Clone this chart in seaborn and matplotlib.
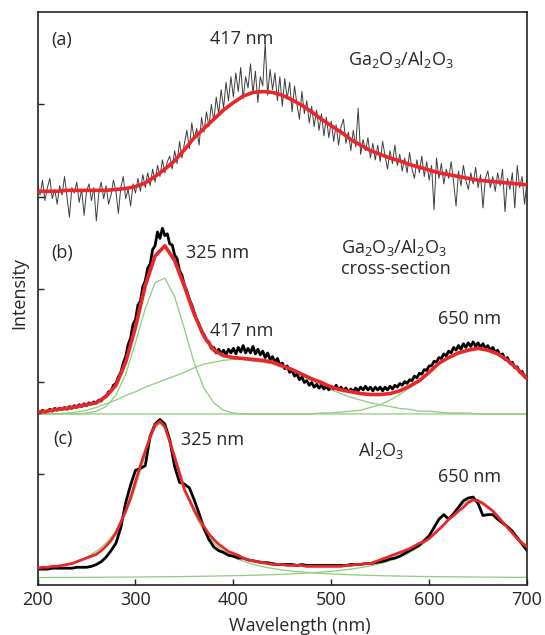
import numpy as np
import seaborn as sns
import matplotlib
matplotlib.use('Agg')
import matplotlib.pyplot as plt

# wavelength grids (nm)
wl_fine = np.arange(200, 700.1, 2.5)   # measured spectra (a), (b)
wl_fit = np.arange(200, 701, 10)       # fits (a), (b)
wl_c = np.arange(200, 701, 5)          # everything in (c)

# vertical offsets of the stacked spectra (a.u.)
off_a, off_b, off_c = 4.0, 1.65, -0.13

# (a) Ga2O3/Al2O3 - measured PL and fit
a_data = [0.14, 0.02, 0.18, -0.04, 0.10, 0.20, -0.02, 0.08, -0.08, 0.12, 0.02, 0.22, 0.00, -0.22, 0.10, 0.04, 0.16, -0.06, 0.08, -0.20,
          0.06, 0.14, -0.04, 0.10, -0.26, 0.04, 0.16, -0.02, 0.12, -0.08, 0.02, 0.18, 0.06, -0.18, 0.10, 0.22, -0.02, 0.08, -0.10, 0.14,
          0.04, 0.20, 0.06, 0.24, 0.10, 0.26, 0.12, 0.30, 0.16, 0.34, 0.22, 0.40, 0.26, 0.38, 0.44, 0.30, 0.50, 0.36, 0.60, 0.42,
          0.58, 0.72, 0.52, 0.80, 0.62, 0.74, 0.56, 0.86, 0.70, 0.92, 0.76, 1.00, 0.82, 1.08, 0.90, 1.16, 0.96, 1.24, 1.04, 1.30,
          1.08, 1.34, 1.14, 1.40, 1.06, 1.30, 1.18, 1.44, 1.12, 1.36, 1.02, 1.30, 1.20, 1.66, 1.10, 1.38, 1.16, 1.34, 1.04, 1.30,
          0.98, 1.28, 1.06, 1.24, 0.92, 1.20, 1.00, 0.84, 1.14, 0.90, 1.04, 0.80, 0.98, 0.76, 0.94, 0.72, 0.90, 0.66, 0.86, 0.64,
          0.82, 0.60, 0.78, 0.56, 0.76, 0.84, 0.58, 0.70, 0.50, 0.72, 0.54, 0.96, 0.46, 0.62, 0.50, 0.64, 0.42, 0.58, 0.40, 0.56,
          0.38, 0.60, 0.44, 0.30, 0.50, 0.36, 0.56, 0.34, 0.46, 0.28, 0.42, 0.26, 0.48, 0.30, 0.20, 0.40, 0.26, 0.44, 0.22, 0.38,
          0.18, 0.34, -0.14, 0.42, 0.20, 0.36, 0.14, 0.30, 0.20, 0.38, 0.16, -0.10, 0.28, 0.12, 0.34, 0.18, 0.08, 0.26, 0.14, 0.32,
          0.10, 0.24, -0.12, 0.20, 0.28, 0.10, 0.22, 0.06, 0.26, 0.12, 0.30, -0.16, 0.20, 0.08, 0.26, -0.12, 0.34, 0.10, 0.22, -0.08,
          0.18]
a_fit = [0.06, 0.06, 0.06, 0.07, 0.07, 0.07, 0.07, 0.07, 0.08, 0.09,
         0.11, 0.15, 0.22, 0.30, 0.39, 0.51, 0.64, 0.74, 0.84, 0.94,
         1.02, 1.09, 1.13, 1.14, 1.13, 1.10, 1.05, 0.99, 0.92, 0.84,
         0.77, 0.70, 0.62, 0.56, 0.50, 0.46, 0.42, 0.39, 0.35, 0.32,
         0.29, 0.26, 0.24, 0.22, 0.20, 0.18, 0.17, 0.16, 0.15, 0.14,
         0.13]

# (b) Ga2O3/Al2O3 cross-section - measured, fit and three components
b_data = [0.03, 0.01, 0.04, 0.02, 0.03, 0.05, 0.03, 0.06, 0.04, 0.06, 0.05, 0.07, 0.05, 0.08, 0.06, 0.09, 0.07, 0.10, 0.08, 0.11,
          0.09, 0.12, 0.11, 0.13, 0.12, 0.15, 0.14, 0.18, 0.19, 0.24, 0.25, 0.31, 0.33, 0.40, 0.45, 0.55, 0.62, 0.75, 0.82, 0.97,
          1.02, 1.18, 1.22, 1.38, 1.44, 1.58, 1.62, 1.78, 1.82, 1.97, 1.90, 2.01, 1.93, 1.95, 1.84, 1.83, 1.72, 1.68, 1.55, 1.50,
          1.39, 1.33, 1.24, 1.18, 1.10, 1.02, 0.97, 0.89, 0.86, 0.79, 0.78, 0.71, 0.72, 0.66, 0.70, 0.65, 0.69, 0.64, 0.70, 0.66,
          0.71, 0.65, 0.72, 0.67, 0.74, 0.66, 0.71, 0.66, 0.73, 0.65, 0.70, 0.64, 0.68, 0.61, 0.66, 0.59, 0.62, 0.56, 0.60, 0.53,
          0.55, 0.49, 0.52, 0.45, 0.47, 0.41, 0.43, 0.37, 0.40, 0.34, 0.36, 0.31, 0.34, 0.29, 0.32, 0.28, 0.31, 0.27, 0.30, 0.26,
          0.30, 0.27, 0.31, 0.26, 0.29, 0.25, 0.28, 0.24, 0.27, 0.24, 0.28, 0.25, 0.29, 0.26, 0.30, 0.26, 0.29, 0.25, 0.29, 0.26,
          0.29, 0.25, 0.29, 0.26, 0.30, 0.27, 0.31, 0.29, 0.33, 0.31, 0.35, 0.33, 0.37, 0.36, 0.41, 0.39, 0.44, 0.43, 0.48, 0.47,
          0.52, 0.52, 0.57, 0.56, 0.61, 0.60, 0.65, 0.63, 0.68, 0.66, 0.72, 0.69, 0.74, 0.70, 0.76, 0.72, 0.77, 0.73, 0.78, 0.73,
          0.77, 0.72, 0.76, 0.71, 0.74, 0.69, 0.72, 0.67, 0.69, 0.63, 0.65, 0.59, 0.61, 0.55, 0.56, 0.50, 0.51, 0.45, 0.46, 0.40,
          0.40]
b_fit = [0.02, 0.03, 0.05, 0.06, 0.08, 0.10, 0.12, 0.19, 0.31, 0.56,
         0.94, 1.39, 1.71, 1.82, 1.66, 1.38, 1.08, 0.84, 0.69, 0.63,
         0.61, 0.60, 0.59, 0.58, 0.56, 0.52, 0.48, 0.43, 0.38, 0.34,
         0.29, 0.26, 0.24, 0.22, 0.21, 0.21, 0.22, 0.25, 0.30, 0.36,
         0.45, 0.55, 0.61, 0.66, 0.69, 0.71, 0.69, 0.65, 0.58, 0.49,
         0.38]
b_g325 = [0.00, 0.00, 0.00, 0.00, 0.00, 0.01, 0.03, 0.08, 0.20, 0.43,
          0.77, 1.14, 1.42, 1.47, 1.27, 0.92, 0.55, 0.28, 0.12, 0.04,
          0.01, 0.00, 0.00, 0.00, 0.00, 0.00, 0.00, 0.00, 0.00, 0.00,
          0.00, 0.00, 0.00, 0.00, 0.00, 0.00, 0.00, 0.00, 0.00, 0.00,
          0.00, 0.00, 0.00, 0.00, 0.00, 0.00, 0.00, 0.00, 0.00, 0.00,
          0.00]
b_g417 = [0.00, 0.00, 0.00, 0.01, 0.02, 0.04, 0.07, 0.11, 0.15, 0.20,
          0.24, 0.29, 0.33, 0.37, 0.41, 0.45, 0.50, 0.54, 0.56, 0.58,
          0.59, 0.59, 0.57, 0.56, 0.54, 0.50, 0.46, 0.41, 0.36, 0.31,
          0.26, 0.22, 0.18, 0.15, 0.12, 0.10, 0.08, 0.06, 0.05, 0.03,
          0.03, 0.02, 0.01, 0.01, 0.01, 0.00, 0.00, 0.00, 0.00, 0.00,
          0.00]
b_g650 = [0.00, 0.00, 0.00, 0.00, 0.00, 0.00, 0.00, 0.00, 0.00, 0.00,
          0.00, 0.00, 0.00, 0.00, 0.00, 0.00, 0.00, 0.00, 0.00, 0.00,
          0.00, 0.00, 0.00, 0.00, 0.00, 0.00, 0.00, 0.00, 0.00, 0.01,
          0.01, 0.02, 0.03, 0.04, 0.07, 0.10, 0.15, 0.21, 0.28, 0.36,
          0.45, 0.53, 0.61, 0.66, 0.70, 0.71, 0.69, 0.64, 0.58, 0.50,
          0.41]

# (c) Al2O3 - measured, fit and two components
c_data = [0.10, 0.10, 0.10, 0.11, 0.11, 0.11, 0.11, 0.11, 0.12, 0.12,
          0.12, 0.13, 0.15, 0.18, 0.23, 0.30, 0.38, 0.55, 0.82, 1.01,
          1.17, 1.19, 1.22, 1.54, 1.67, 1.72, 1.67, 1.50, 1.21, 1.04,
          1.02, 0.98, 0.85, 0.70, 0.54, 0.42, 0.34, 0.30, 0.28, 0.25,
          0.24, 0.22, 0.22, 0.20, 0.19, 0.18, 0.17, 0.17, 0.16, 0.15,
          0.15, 0.15, 0.15, 0.14, 0.15, 0.14, 0.14, 0.14, 0.14, 0.14,
          0.14, 0.14, 0.14, 0.14, 0.15, 0.15, 0.15, 0.16, 0.16, 0.17,
          0.18, 0.19, 0.21, 0.22, 0.24, 0.27, 0.30, 0.33, 0.36, 0.41,
          0.46, 0.55, 0.64, 0.69, 0.64, 0.70, 0.77, 0.84, 0.87, 0.88,
          0.81, 0.68, 0.69, 0.69, 0.64, 0.60, 0.56, 0.51, 0.44, 0.37,
          0.30]
c_fit = [0.11, 0.12, 0.12, 0.13, 0.13, 0.14, 0.15, 0.16, 0.18, 0.20,
         0.22, 0.24, 0.26, 0.30, 0.35, 0.41, 0.49, 0.61, 0.73, 0.87,
         1.05, 1.22, 1.38, 1.53, 1.66, 1.70, 1.64, 1.48, 1.31, 1.14,
         0.96, 0.85, 0.74, 0.64, 0.56, 0.48, 0.42, 0.37, 0.33, 0.29,
         0.27, 0.25, 0.22, 0.20, 0.19, 0.18, 0.17, 0.16, 0.15, 0.15,
         0.15, 0.14, 0.14, 0.14, 0.14, 0.13, 0.13, 0.13, 0.13, 0.13,
         0.13, 0.13, 0.13, 0.14, 0.14, 0.15, 0.15, 0.16, 0.16, 0.18,
         0.20, 0.22, 0.24, 0.26, 0.28, 0.30, 0.32, 0.35, 0.38, 0.40,
         0.43, 0.48, 0.53, 0.58, 0.64, 0.68, 0.73, 0.77, 0.82, 0.85,
         0.84, 0.81, 0.77, 0.73, 0.67, 0.61, 0.55, 0.49, 0.43, 0.38,
         0.34]
c_g325 = [0.091, 0.099, 0.107, 0.116, 0.126, 0.138, 0.152, 0.168, 0.186, 0.207,
          0.231, 0.260, 0.294, 0.335, 0.384, 0.443, 0.516, 0.603, 0.710, 0.838,
          0.989, 1.160, 1.341, 1.508, 1.630, 1.676, 1.630, 1.508, 1.341, 1.160,
          0.989, 0.838, 0.710, 0.603, 0.516, 0.443, 0.384, 0.335, 0.294, 0.260,
          0.231, 0.207, 0.186, 0.168, 0.152, 0.138, 0.126, 0.116, 0.107, 0.099,
          0.091, 0.085, 0.079, 0.074, 0.069, 0.064, 0.061, 0.057, 0.054, 0.051,
          0.048, 0.045, 0.043, 0.041, 0.039, 0.037, 0.035, 0.034, 0.032, 0.031,
          0.029, 0.028, 0.027, 0.026, 0.025, 0.024, 0.023, 0.022, 0.021, 0.020,
          0.020, 0.019, 0.018, 0.018, 0.017, 0.017, 0.016, 0.016, 0.015, 0.015,
          0.014, 0.014, 0.013, 0.013, 0.013, 0.012, 0.012, 0.012, 0.011, 0.011,
          0.011]
c_g650 = [0.009, 0.009, 0.009, 0.010, 0.010, 0.010, 0.010, 0.011, 0.011, 0.011,
          0.011, 0.012, 0.012, 0.012, 0.013, 0.013, 0.013, 0.014, 0.014, 0.014,
          0.015, 0.015, 0.016, 0.016, 0.017, 0.017, 0.018, 0.018, 0.019, 0.019,
          0.020, 0.021, 0.022, 0.022, 0.023, 0.024, 0.025, 0.026, 0.027, 0.028,
          0.029, 0.030, 0.031, 0.033, 0.034, 0.035, 0.037, 0.039, 0.040, 0.042,
          0.044, 0.047, 0.049, 0.052, 0.055, 0.058, 0.061, 0.064, 0.068, 0.073,
          0.077, 0.082, 0.088, 0.094, 0.100, 0.108, 0.116, 0.125, 0.135, 0.147,
          0.159, 0.174, 0.190, 0.208, 0.229, 0.253, 0.279, 0.309, 0.344, 0.383,
          0.427, 0.476, 0.530, 0.587, 0.647, 0.707, 0.762, 0.808, 0.840, 0.854,
          0.848, 0.823, 0.782, 0.730, 0.671, 0.611, 0.552, 0.497, 0.446, 0.400,
          0.359]

sns.set_style('ticks')
plt.rcParams['font.family'] = ['Open Sans', 'DejaVu Sans']
plt.rcParams['mathtext.fontset'] = 'custom'
plt.rcParams['mathtext.rm'] = 'Open Sans'
plt.rcParams['mathtext.it'] = 'Open Sans:italic'

red = '#e8262b'
green = '#8fcc7e'

fig = plt.figure(figsize=(5.45, 6.35), dpi=100)
ax = fig.add_axes([0.069, 0.079, 0.898, 0.902])


def line(wl, vals, off, color, lw, z):
    sns.lineplot(x=wl, y=np.array(vals) + off, ax=ax, color=color, linewidth=lw,
                 estimator=None, legend=False, zorder=z)


# Gaussian / Lorentzian components
for g in (b_g325, b_g417, b_g650):
    line(wl_fit, g, off_b, green, 0.9, 1)
for g in (c_g325, c_g650):
    line(wl_c, g, off_c, green, 0.9, 1)

# measured spectra
line(wl_fine, a_data, off_a, '#3c3c3c', 0.7, 2)
line(wl_fine, b_data, off_b, 'black', 2.0, 2)
line(wl_c, c_data, off_c, 'black', 2.0, 2)

# fits
line(wl_fit, a_fit, off_a, red, 2.6, 3)
line(wl_fit, b_fit, off_b, red, 2.6, 3)
line(wl_c, c_fit, off_c, red, 2.0, 3)

fs = 13
ax.text(214, 5.80, '(a)', fontsize=fs, ha='left', va='top')
ax.text(376, 5.81, '417 nm', fontsize=fs, ha='left', va='top')
ax.text(517, 5.60, r'Ga$_2$O$_3$/Al$_2$O$_3$', fontsize=fs, ha='left', va='top')

ax.text(214, 3.49, '(b)', fontsize=fs, ha='left', va='top')
ax.text(352, 3.49, '325 nm', fontsize=fs, ha='left', va='top')
ax.text(376, 2.65, '417 nm', fontsize=fs, ha='left', va='top')
ax.text(510, 3.57, r'Ga$_2$O$_3$/Al$_2$O$_3$', fontsize=fs, ha='left', va='top')
ax.text(510, 3.32, 'cross-section', fontsize=fs, ha='left', va='top')
ax.text(609, 2.77, '650 nm', fontsize=fs, ha='left', va='top')

ax.text(216, 1.48, '(c)', fontsize=fs, ha='left', va='top')
ax.text(347, 1.46, '325 nm', fontsize=fs, ha='left', va='top')
ax.text(527, 1.37, r'Al$_2$O$_3$', fontsize=fs, ha='left', va='top')
ax.text(609, 1.07, '650 nm', fontsize=fs, ha='left', va='top')

ax.set_xlim(200, 700)
ax.set_ylim(-0.2, 6.0)
ax.set_xticks([200, 300, 400, 500, 600, 700])
ax.set_yticks([1, 2, 3, 4, 5])
ax.set_yticklabels([])
ax.tick_params(direction='in', length=4, width=1, labelsize=fs, pad=4.5, colors='#222222')
for s in ax.spines.values():
    s.set_linewidth(1.2)
    s.set_color('#222222')

ax.set_xlabel('Wavelength (nm)', fontsize=fs)
ax.xaxis.set_label_coords(0.536, -0.056)
ax.xaxis.label.set_va('top')
ax.set_ylabel('Intensity', fontsize=fs)
ax.yaxis.set_label_coords(-0.02, 0.51)

fig.savefig('out.png', dpi=100)
